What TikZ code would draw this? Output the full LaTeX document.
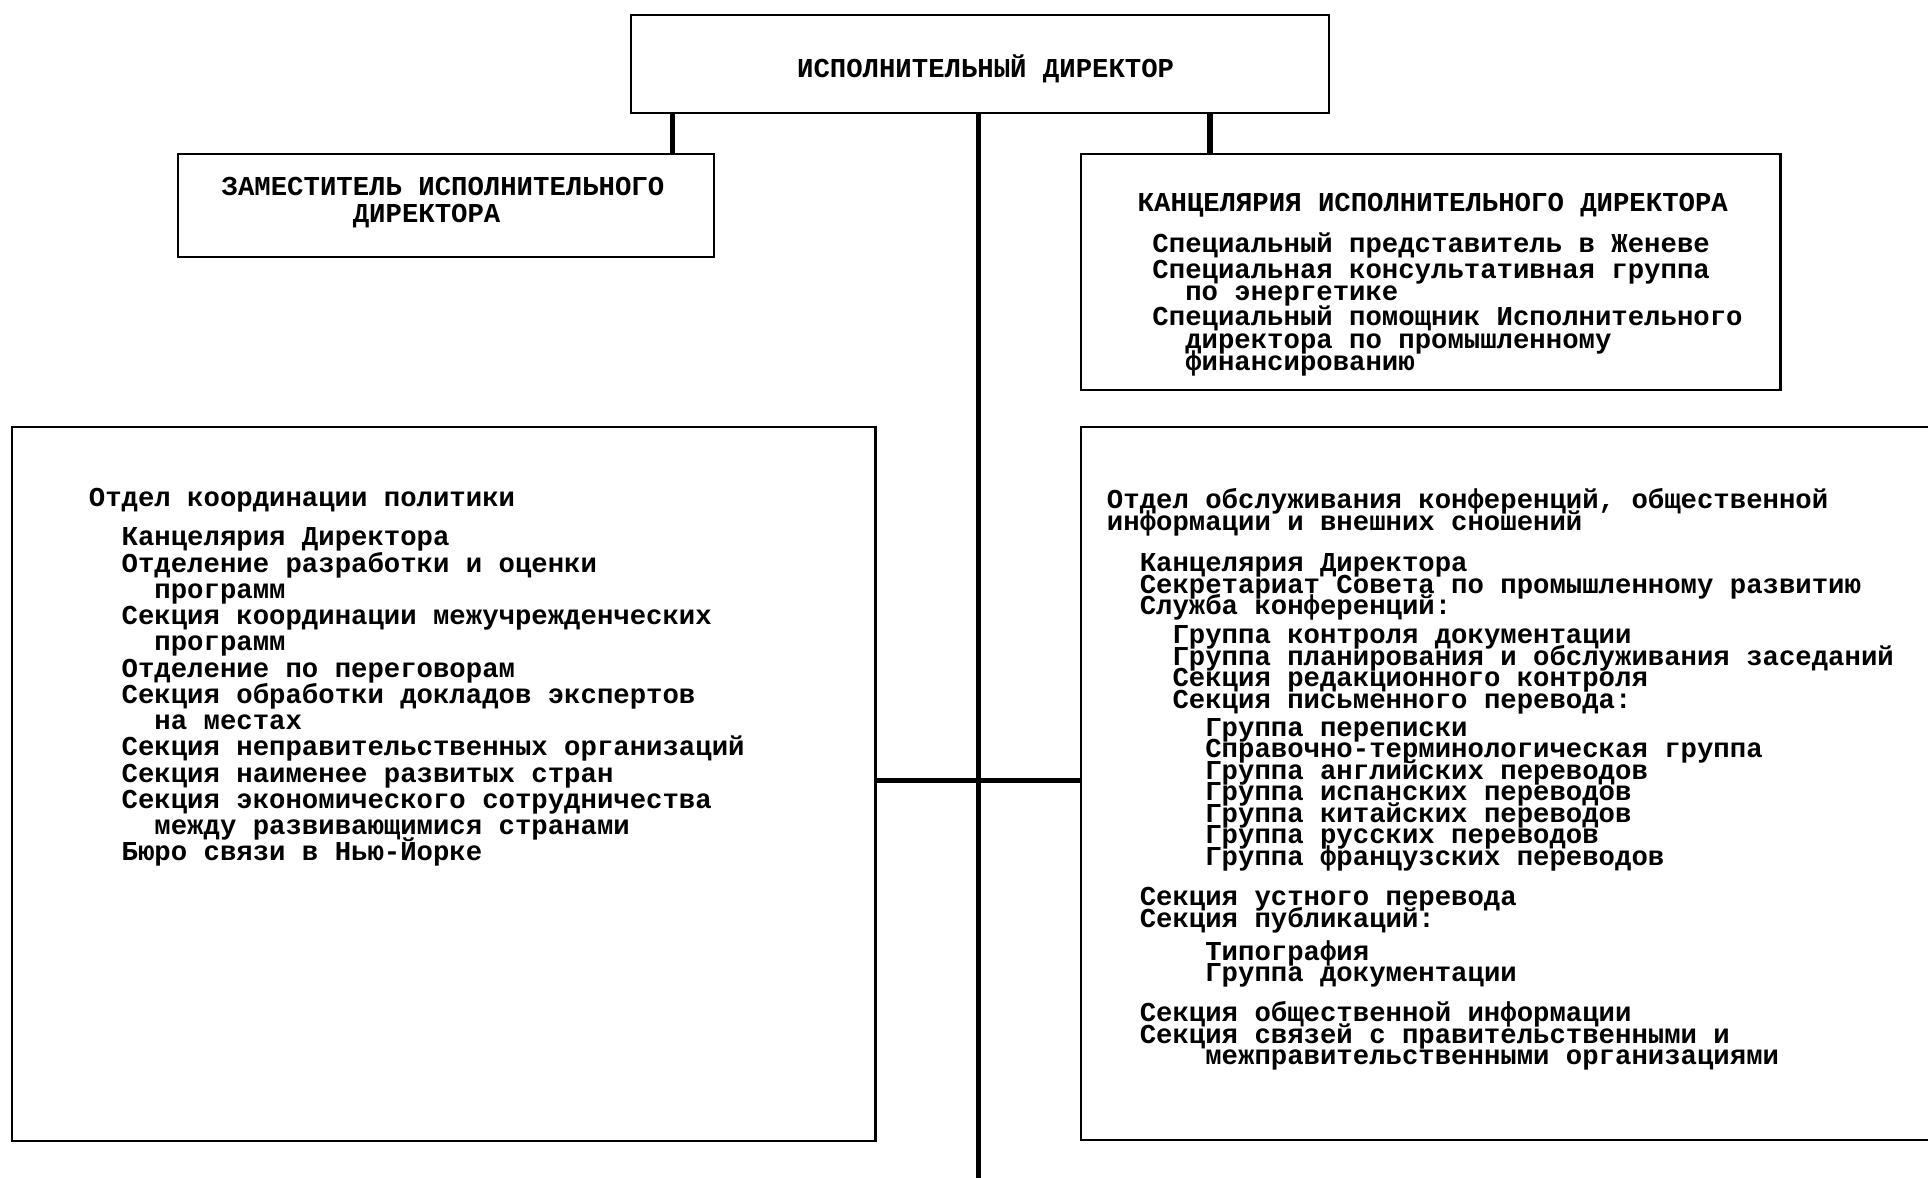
\documentclass[tikz,border=0pt]{standalone}
\usepackage{fontspec}
\setmonofont{Liberation Mono}
\usetikzlibrary{positioning,fit}
\setlength{\lineskiplimit}{-20pt}

\tikzset{
  box/.style={draw, line width=1.2pt, inner sep=0pt},
  link/.style={line width=3pt},
  txt/.style={font=\ttfamily\bfseries\fontsize{15.8}{12.4}\selectfont, align=left, inner sep=0pt, anchor=base west},
}

\begin{document}
\begin{tikzpicture}[x=0.025cm, y=-0.025cm]
    \useasboundingbox (0,0) rectangle (1568,958);

    % boxes
    \node[box, fit={(513,12) (1081,92)}] (exec) {};
    \node[box, fit={(145,125) (581,209)}] (dep) {};
    \node[box, fit={(879,125) (1448,317)}] (office) {};
    \node[box, fit={(10,347) (712,928)}] (pol) {};
    \node[box, fit={(879,347) (1600,927)}] (conf) {};

    % texts (base = baseline of the last line)
    \node[txt] (execlbl) at (648,63) {ИСПОЛНИТЕЛЬНЫЙ ДИРЕКТОР};
    \node[txt, font=\ttfamily\bfseries\fontsize{15.8}{15.6}\selectfont] (deplbl) at (180,181)
        {ЗАМЕСТИТЕЛЬ ИСПОЛНИТЕЛЬНОГО\\~~~~~~~~ДИРЕКТОРА};
    \node[txt] (offtitle) at (925,172) {КАНЦЕЛЯРИЯ ИСПОЛНИТЕЛЬНОГО ДИРЕКТОРА};
    \node[txt, font=\ttfamily\bfseries\fontsize{15.8}{12.76}\selectfont] (offlist) at (937,301)
        {Специальный представитель в Женеве\\[2.1pt]
         Специальная консультативная группа\\
         ~~по энергетике\\[2.1pt]
         Специальный помощник Исполнительного\\
         ~~директора по промышленному\\
         ~~финансированию};
    \node[txt, font=\ttfamily\bfseries\fontsize{15.8}{15.17}\selectfont] (pollist) at (72,700)
        {Отдел координации политики\\[7.5pt]
         ~~Канцелярия Директора\\
         ~~Отделение разработки и оценки\\
         ~~~~программ\\
         ~~Секция координации межучрежденческих\\
         ~~~~программ\\
         ~~Отделение по переговорам\\
         ~~Секция обработки докладов экспертов\\
         ~~~~на местах\\
         ~~Секция неправительственных организаций\\
         ~~Секция наименее развитых стран\\
         ~~Секция экономического сотрудничества\\
         ~~~~между развивающимися странами\\
         ~~Бюро связи в Нью-Йорке};
    \node[txt] (conflist) at (900,866)
        {Отдел обслуживания конференций, общественной\\
         информации и внешних сношений\\[11.7pt]
         ~~Канцелярия Директора\\
         ~~Секретариат Совета по промышленному развитию\\
         ~~Служба конференций:\\[4.6pt]
         ~~~~Группа контроля документации\\
         ~~~~Группа планирования и обслуживания заседаний\\
         ~~~~Секция редакционного контроля\\
         ~~~~Секция письменного перевода:\\[3.9pt]
         ~~~~~~Группа переписки\\
         ~~~~~~Справочно-терминологическая группа\\
         ~~~~~~Группа английских переводов\\
         ~~~~~~Группа испанских переводов\\
         ~~~~~~Группа китайских переводов\\
         ~~~~~~Группа русских переводов\\
         ~~~~~~Группа французских переводов\\[11pt]
         ~~Секция устного перевода\\
         ~~Секция публикаций:\\[6.7pt]
         ~~~~~~Типография\\
         ~~~~~~Группа документации\\[11pt]
         ~~Секция общественной информации\\
         ~~Секция связей с правительственными и\\
         ~~~~~~межправительственными организациями};

    % connectors
    \coordinate (cL) at (547,0);
    \coordinate (cM) at (796,0);
    \coordinate (cR) at (984,0);
    \coordinate (hub) at (796,635);
    \coordinate (tail) at (796,958);
    \draw[link] (exec.south -| cL) -- (dep.north -| cL);
    \draw[link] (exec.south -| cR) -- (office.north -| cR);
    \draw[link] (exec.south -| cM) -- (tail);
    \draw[link] (pol.east |- hub) -- (conf.west |- hub);
\end{tikzpicture}
\end{document}
